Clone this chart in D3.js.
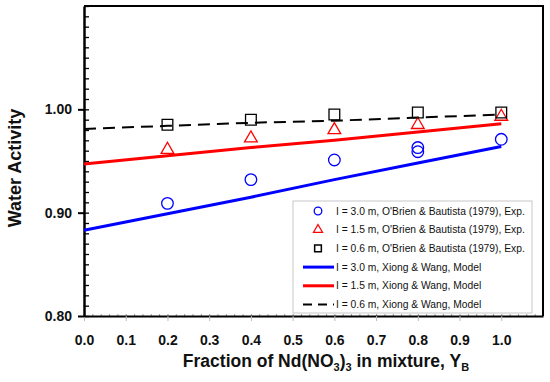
<!DOCTYPE html>
<html>
<head>
<meta charset="utf-8">
<script src="https://cdn.jsdelivr.net/npm/d3@7"></script>
<style>
  body { margin: 0; background: #fff; }
  text { font-family: "Liberation Sans", Arial, sans-serif; }
</style>
</head>
<body>
<script>
// data
const xExp30 = [0.2, 0.4, 0.6, 0.8, 0.8, 1.0];
const awExp30 = [0.909, 0.932, 0.951, 0.963, 0.959, 0.971];
const xExp = [0.2, 0.4, 0.6, 0.8, 1.0];
const awExp15 = [0.961, 0.972, 0.980, 0.985, 0.993];
const awExp06 = [0.985, 0.990, 0.995, 0.997, 0.997];
const xModel = [0.0, 0.2, 0.4, 0.6, 0.8, 1.0];
const awModel30 = [0.883, 0.899, 0.915, 0.932, 0.948, 0.964];
const awModel15 = [0.947, 0.955, 0.963, 0.970, 0.978, 0.986];
const awModel06 = [0.981, 0.984, 0.987, 0.989, 0.992, 0.995];
const xTicks = [0.0, 0.1, 0.2, 0.3, 0.4, 0.5, 0.6, 0.7, 0.8, 0.9, 1.0];
const yTicks = [0.80, 0.90, 1.00];
const legendLabels = [
  "I = 3.0 m, O'Brien & Bautista (1979), Exp.",
  "I = 1.5 m, O'Brien & Bautista (1979), Exp.",
  "I = 0.6 m, O'Brien & Bautista (1979), Exp.",
  "I = 3.0 m, Xiong & Wang, Model",
  "I = 1.5 m, Xiong & Wang, Model",
  "I = 0.6 m, Xiong & Wang, Model"
];

const width = 550, height = 382;
const mLeft = 84, mRight = 543, mTop = 6, mBottom = 316;

const svg = d3.select("body").append("svg")
  .attr("width", width)
  .attr("height", height);

const x = d3.scaleLinear().domain([0, 1.1]).range([mLeft, mRight]);
const y = d3.scaleLinear().domain([0.8, 1.1]).range([mBottom, mTop]);

// x axis: gray minor ticks inside, major ticks below
svg.append("g")
  .attr("transform", `translate(0,${mBottom})`)
  .call(d3.axisTop(x).tickValues(d3.range(0, 55).map(i => i * 0.02)).tickSize(2).tickFormat(""))
  .call(g => g.select(".domain").remove())
  .call(g => g.selectAll("line").attr("stroke", "#999"));

const xAxis = svg.append("g")
  .attr("transform", `translate(0,${mBottom})`)
  .call(d3.axisBottom(x).tickValues(xTicks).tickSize(5).tickSizeOuter(0).tickPadding(14).tickFormat(d3.format(".1f")));
xAxis.select(".domain").attr("stroke", "#000").attr("stroke-width", 2);
xAxis.selectAll("line").attr("stroke", "#bbb");
xAxis.selectAll("text").attr("font-size", 14).attr("font-weight", "bold").attr("fill", "#111");

// y axis: minor ticks inside, major outside
svg.append("g")
  .attr("transform", `translate(${mLeft},0)`)
  .call(d3.axisRight(y).tickValues(d3.range(0, 31).map(i => 0.8 + i * 0.01)).tickSize(5).tickFormat(""))
  .call(g => g.select(".domain").remove())
  .call(g => g.selectAll("line").attr("stroke", "#000").attr("stroke-width", 1.3));

const yAxis = svg.append("g")
  .attr("transform", `translate(${mLeft},0)`)
  .call(d3.axisLeft(y).tickValues(yTicks).tickSize(6).tickSizeOuter(0).tickPadding(6).tickFormat(d3.format(".2f")));
yAxis.select(".domain").attr("stroke", "#000").attr("stroke-width", 2.5);
yAxis.selectAll("line").attr("stroke", "#000").attr("stroke-width", 2);
yAxis.selectAll("text").attr("font-size", 14).attr("font-weight", "bold").attr("fill", "#111");

// top and right frame
svg.append("path")
  .attr("d", `M${mLeft},${y(1.1)}H${x(1.1)}V${y(0.8)}`)
  .attr("fill", "none")
  .attr("stroke", "#000")
  .attr("stroke-width", 2);

// model lines
const line = d3.line().x(d => x(d[0])).y(d => y(d[1]));
const models = [
  { vals: awModel30, color: "#0000ff", w: 3, dash: null },
  { vals: awModel15, color: "#ff0000", w: 3, dash: null },
  { vals: awModel06, color: "#000", w: 2, dash: "12,7" }
];
models.forEach(m => {
  svg.append("path")
    .datum(d3.zip(xModel, m.vals))
    .attr("d", line)
    .attr("fill", "none")
    .attr("stroke", m.color)
    .attr("stroke-width", m.w)
    .attr("stroke-dasharray", m.dash);
});

// experimental points
const tri = d3.symbol().type(d3.symbolTriangle).size(70);
const sq = d3.symbol().type(d3.symbolSquare).size(115);

svg.append("g").selectAll("circle")
  .data(d3.zip(xExp30, awExp30))
  .join("circle")
  .attr("cx", d => x(d[0]))
  .attr("cy", d => y(d[1]))
  .attr("r", 5.8)
  .attr("fill", "none")
  .attr("stroke", "#0000ff")
  .attr("stroke-width", 1.3);

svg.append("g").selectAll("path")
  .data(d3.zip(xExp, awExp15))
  .join("path")
  .attr("d", tri)
  .attr("transform", d => `translate(${x(d[0])},${y(d[1])})`)
  .attr("fill", "none")
  .attr("stroke", "#ff0000")
  .attr("stroke-width", 1.3);

svg.append("g").selectAll("path")
  .data(d3.zip(xExp, awExp06))
  .join("path")
  .attr("d", sq)
  .attr("transform", d => `translate(${x(d[0])},${y(d[1])})`)
  .attr("fill", "none")
  .attr("stroke", "#000")
  .attr("stroke-width", 1.3);

// legend
const lg = svg.append("g").attr("transform", "translate(293,201)");
lg.append("rect")
  .attr("width", 239).attr("height", 112)
  .attr("fill", "#fff")
  .attr("stroke", "#c8c8c8");

const rowY = i => 10 + i * 18.7;
const symX = 25, textX = 43;
lg.append("circle").attr("cx", symX).attr("cy", rowY(0)).attr("r", 3.8)
  .attr("fill", "none").attr("stroke", "#0000ff").attr("stroke-width", 1.3);
lg.append("path").attr("d", d3.symbol().type(d3.symbolTriangle).size(35))
  .attr("transform", `translate(${symX},${rowY(1)})`)
  .attr("fill", "none").attr("stroke", "#ff0000").attr("stroke-width", 1.3);
lg.append("path").attr("d", d3.symbol().type(d3.symbolSquare).size(45))
  .attr("transform", `translate(${symX},${rowY(2)})`)
  .attr("fill", "none").attr("stroke", "#000").attr("stroke-width", 1.5);
models.forEach((m, i) => {
  lg.append("line")
    .attr("x1", 10).attr("x2", 41)
    .attr("y1", rowY(3 + i)).attr("y2", rowY(3 + i))
    .attr("stroke", m.color)
    .attr("stroke-width", m.w)
    .attr("stroke-dasharray", m.dash ? "9,6" : null);
});
lg.selectAll("text.lab")
  .data(legendLabels)
  .join("text")
  .attr("class", "lab")
  .attr("x", textX)
  .attr("y", (d, i) => rowY(i))
  .attr("dy", "0.35em")
  .attr("font-size", 10.3)
  .attr("fill", "#111")
  .text(d => d);

// axis titles
svg.append("text")
  .attr("transform", "translate(21,168) rotate(-90)")
  .attr("text-anchor", "middle")
  .attr("font-size", 18)
  .attr("font-weight", "bold")
  .attr("fill", "#111")
  .text("Water Activity");

const xt = svg.append("text")
  .attr("x", 326)
  .attr("y", 367)
  .attr("text-anchor", "middle")
  .attr("font-size", 17.5)
  .attr("font-weight", "bold")
  .attr("fill", "#111");
xt.append("tspan").text("Fraction of Nd(NO");
xt.append("tspan").attr("font-size", 11).attr("dy", 4).text("3");
xt.append("tspan").attr("dy", -4).text(")");
xt.append("tspan").attr("font-size", 11).attr("dy", 4).text("3");
xt.append("tspan").attr("dy", -4).text(" in mixture, Y");
xt.append("tspan").attr("font-size", 11).attr("dy", 4).text("B");
</script>
</body>
</html>
